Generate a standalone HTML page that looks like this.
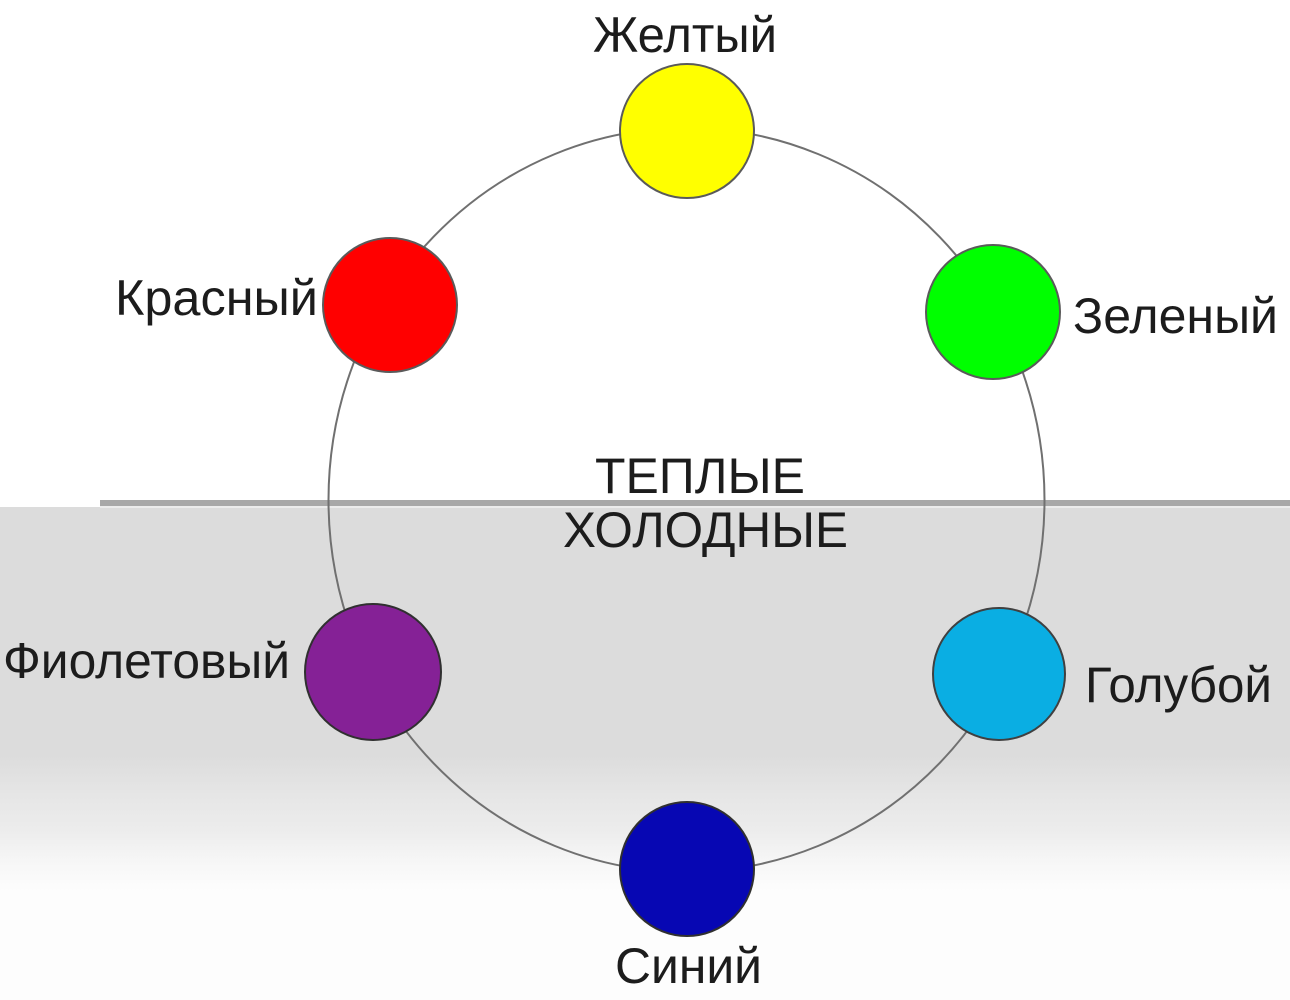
<!DOCTYPE html>
<html>
<head>
<meta charset="utf-8">
<style>
  html, body { margin: 0; padding: 0; background: #ffffff; }
  body { width: 1290px; height: 1000px; overflow: hidden; }
  svg { display: block; }
  text { font-family: "Liberation Sans", "DejaVu Sans", sans-serif; fill: #1c1c1c; }
</style>
</head>
<body>
<svg width="1290" height="1000" viewBox="0 0 1290 1000" xmlns="http://www.w3.org/2000/svg">
  <defs>
    <linearGradient id="fade" x1="0" y1="0" x2="0" y2="1">
      <stop offset="0" stop-color="#dcdcdc"/>
      <stop offset="0.3" stop-color="#e6e6e6"/>
      <stop offset="0.55" stop-color="#ececec"/>
      <stop offset="0.8" stop-color="#f7f7f7"/>
      <stop offset="1" stop-color="#fdfdfd"/>
    </linearGradient>
  </defs>
  <!-- background -->
  <rect x="0" y="0" width="1290" height="1000" fill="#ffffff"/>
  <rect x="0" y="890" width="1290" height="110" fill="#fdfdfd"/>
  <!-- cold band -->
  <rect x="0" y="507" width="1290" height="249" fill="#dcdcdc"/>
  <rect x="0" y="755" width="1290" height="136" fill="url(#fade)"/>
  <!-- separator -->
  <rect x="100" y="500" width="1190" height="6" fill="#a8a8a8"/>
  <rect x="100" y="506" width="1190" height="2" fill="#ececec"/>

  <!-- ring -->
  <ellipse cx="686.5" cy="500" rx="358" ry="372" fill="none" stroke="#707070" stroke-width="2"/>

  <!-- circles -->
  <circle cx="687" cy="131" r="67" fill="#ffff00" stroke="#5a5a5a" stroke-width="2"/>
  <circle cx="390" cy="305" r="67" fill="#ff0000" stroke="#5a5a5a" stroke-width="2"/>
  <circle cx="993" cy="312" r="67" fill="#00ff00" stroke="#5a5a5a" stroke-width="2"/>
  <circle cx="999" cy="674" r="66" fill="#0aaee3" stroke="#404040" stroke-width="2"/>
  <circle cx="373" cy="672" r="68" fill="#852196" stroke="#303030" stroke-width="2"/>
  <circle cx="687" cy="869" r="67" fill="#0707b3" stroke="#303030" stroke-width="2"/>

  <!-- labels -->
  <text x="593" y="52" font-size="50" textLength="184" lengthAdjust="spacingAndGlyphs">Желтый</text>
  <text x="115" y="315" font-size="50" textLength="203" lengthAdjust="spacingAndGlyphs">Красный</text>
  <text x="1073" y="333" font-size="50" textLength="205" lengthAdjust="spacingAndGlyphs">Зеленый</text>
  <text x="1085" y="702" font-size="50" textLength="187" lengthAdjust="spacingAndGlyphs">Голубой</text>
  <text x="3" y="678" font-size="50" textLength="287" lengthAdjust="spacingAndGlyphs">Фиолетовый</text>
  <text x="615" y="983" font-size="50" textLength="147" lengthAdjust="spacingAndGlyphs">Синий</text>
  <text x="595" y="493" font-size="50" textLength="210" lengthAdjust="spacingAndGlyphs">ТЕПЛЫЕ</text>
  <text x="563" y="547" font-size="50" textLength="285" lengthAdjust="spacingAndGlyphs">ХОЛОДНЫЕ</text>
</svg>
</body>
</html>
